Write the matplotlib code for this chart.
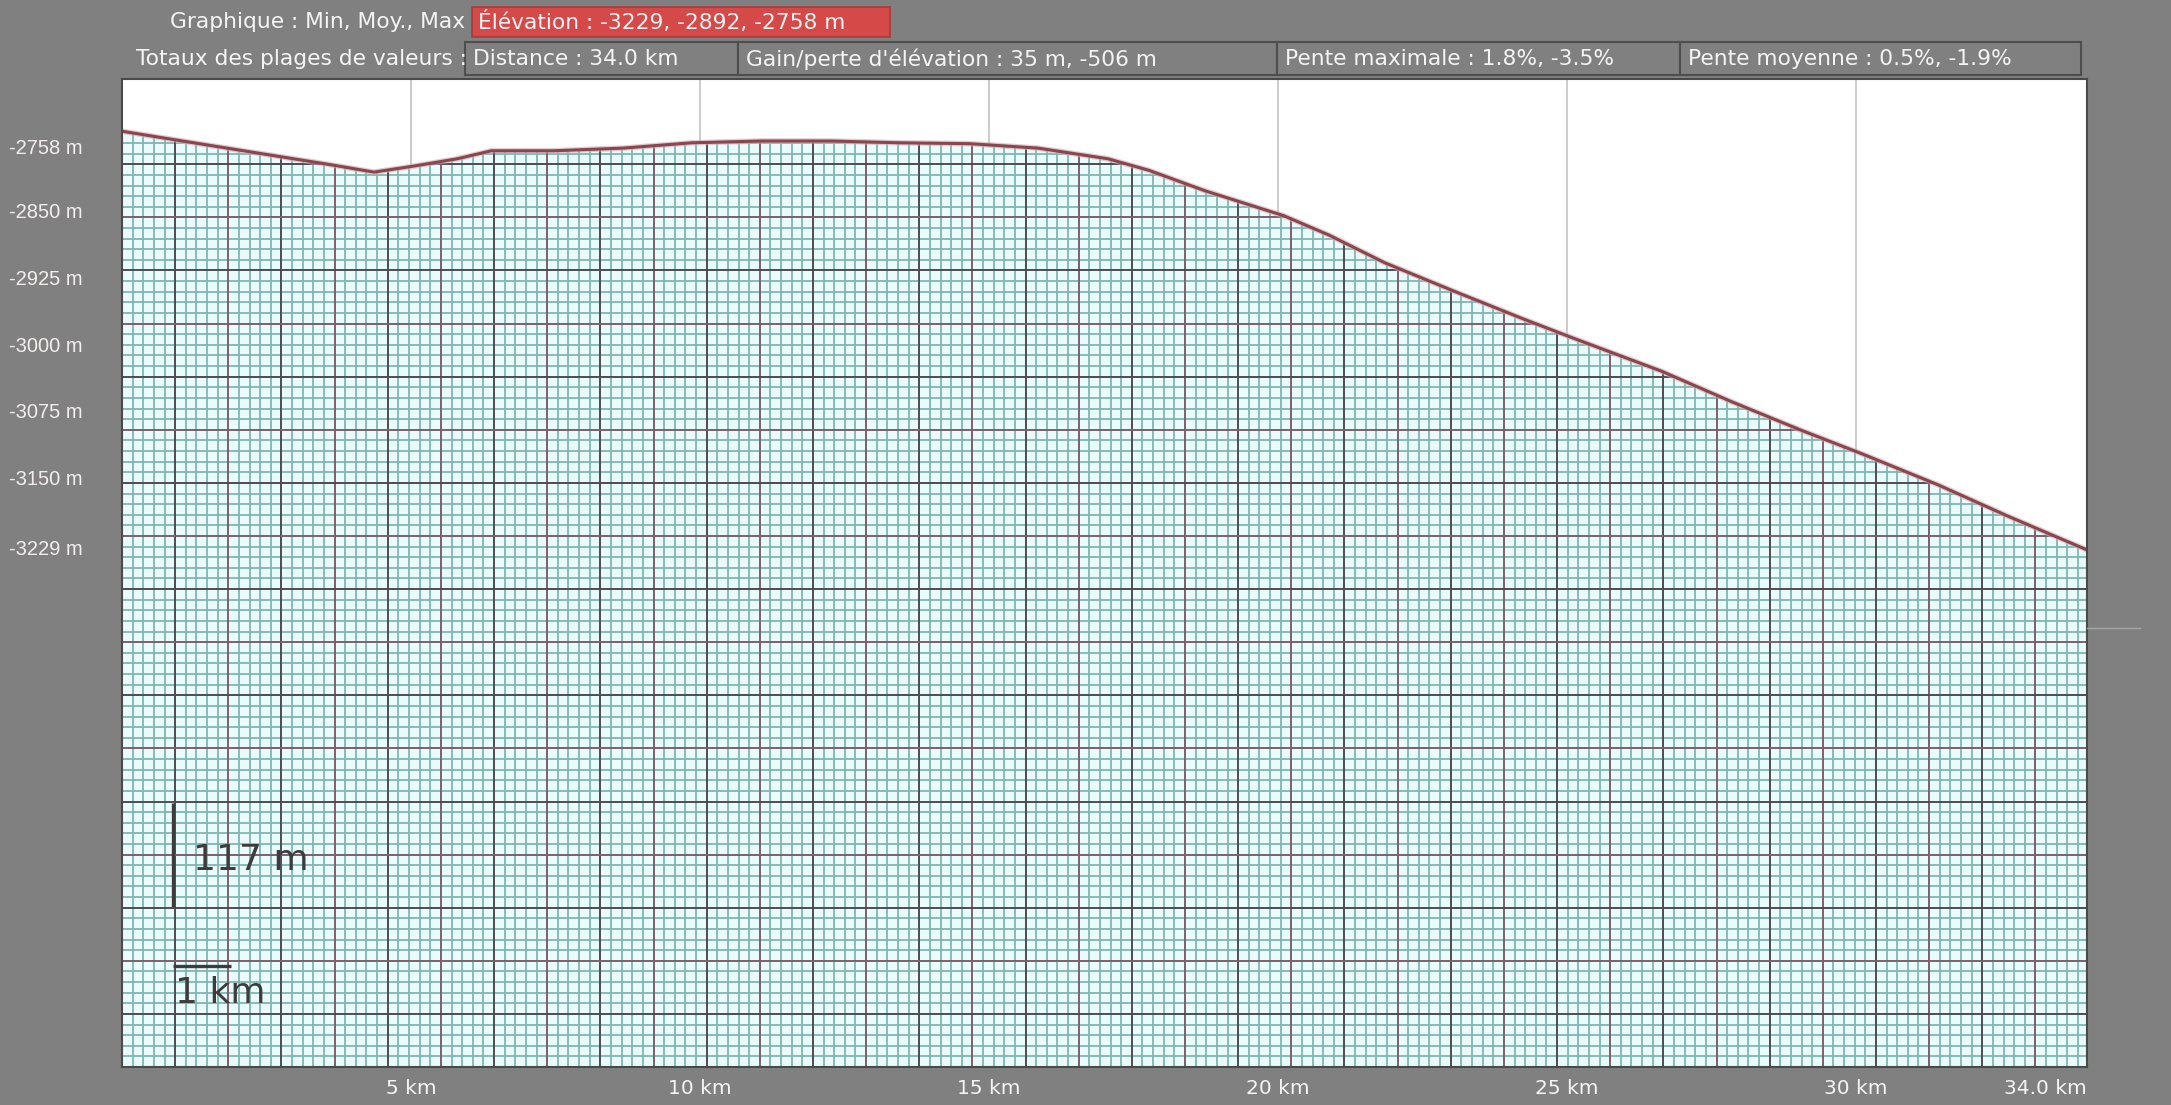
import numpy as np
import matplotlib
matplotlib.use("Agg")
import matplotlib.pyplot as plt
from matplotlib.collections import LineCollection
from matplotlib.patches import Rectangle
from matplotlib.lines import Line2D
from matplotlib.transforms import blended_transform_factory, ScaledTranslation

# Elevation profile (km, m)
distance_km = [0.0, 0.76, 1.72, 2.68, 3.64, 4.36, 5.07, 5.80, 6.39, 7.47, 8.67,
               9.86, 11.07, 12.27, 13.46, 14.66, 15.85, 17.06, 17.77, 18.74,
               20.10, 20.89, 21.85, 23.05, 24.24, 25.12, 26.64, 27.84, 29.04,
               30.11, 31.43, 32.63, 34.0]
elevation_m = [-2758, -2766, -2776, -2786, -2796, -2804, -2797, -2789, -2780,
               -2780, -2777, -2771, -2769, -2769, -2771, -2772, -2777, -2789,
               -2802, -2825, -2853, -2875, -2906, -2938, -2969, -2991, -3028,
               -3062, -3094, -3121, -3156, -3191, -3229]

ytick_values = [-2758, -2850, -2925, -3000, -3075, -3150, -3229]
ytick_labels = [f"{v} m" for v in ytick_values]
xtick_values = [5, 10, 15, 20, 25, 30]
xtick_labels = [f"{v} km" for v in xtick_values]
total_km = 34.0

header_label = "Graphique : Min, Moy., Max"
header_value = "Élévation : -3229, -2892, -2758 m"
totals_label = "Totaux des plages de valeurs :"
totals_boxes = ["Distance : 34.0 km",
                "Gain/perte d'élévation : 35 m, -506 m",
                "Pente maximale : 1.8%, -3.5%",
                "Pente moyenne : 0.5%, -1.9%"]

scale_bar_m = 117
scale_bar_km = 1

# layout (pixels of the 2171x1105 screenshot)
W, H = 2171, 1105
BG = "#808080"
TXT = "#f4f4f4"
PAPER = "#eafbfb"
Y_TOP, Y_BOTTOM = -2699.25, -3810.75
FS = 14.5
FS_HEAD = 15.7
FS_Y = 14.5


def fx(px):
    return px / W


def fy(py):
    return 1 - py / H


fig = plt.figure(figsize=(W / 100, H / 100), dpi=100, facecolor=BG)
ax = fig.add_axes([fx(122), fy(1067), (2087 - 122) / W, (1067 - 79) / H])
ax.set_xlim(0, total_km)
ax.set_ylim(Y_BOTTOM, Y_TOP)
ax.set_facecolor("white")

# graph-paper texture under the profile
ax.add_patch(Rectangle((0, 0), 1, 1, transform=ax.transAxes,
                       facecolor=PAPER, edgecolor="none", zorder=0))
col_step = 53.15 / 1965 / 5
row_step = 53.1 / 988 / 5
minor_segs, major_segs, major_cols = [], [], []
for i, x in enumerate(np.arange(0, 1 + 1e-9, col_step)):
    seg = [(x, 0), (x, 1)]
    if i % 5:
        minor_segs.append(seg)
    else:
        major_segs.append(seg)
        major_cols.append("#4c4c55" if (i // 5) % 2 else "#7e5f6d")
for j, y in enumerate(np.arange(0, 1 + 1e-9, row_step)):
    seg = [(0, y), (1, y)]
    if j % 5:
        minor_segs.append(seg)
    else:
        major_segs.append(seg)
        major_cols.append("#4c4c55" if (j // 5) % 2 else "#7e5f6d")
ax.add_collection(LineCollection(minor_segs, colors="#80b6b2", linewidths=1.3,
                                 transform=ax.transAxes, zorder=1))
ax.add_collection(LineCollection(major_segs, colors=major_cols, linewidths=1.4,
                                 transform=ax.transAxes, zorder=1.5))

# white sky above the profile, with light 5 km guides
sky = ax.fill_between(distance_km, elevation_m, Y_TOP, color="white", lw=0, zorder=2)
sky_path = sky.get_paths()[0]
for x in xtick_values:
    gl = ax.axvline(x, color="#c8c8c8", lw=1.3, zorder=3)
    gl.set_clip_path(sky_path, ax.transData)

ax.plot(distance_km, elevation_m, color="#d8a8b0", lw=4.0, alpha=0.6, zorder=4)
ax.plot(distance_km, elevation_m, color="#87474f", lw=2.2, zorder=5)

for s in ax.spines.values():
    s.set_color("#4a4a4a")
    s.set_linewidth(1.5)
    s.set_zorder(6)

ax.set_xticks(xtick_values, xtick_labels)
ax.set_yticks([])
ax.tick_params(axis="x", length=0, colors=TXT, labelsize=FS, pad=9)
ax.annotate("34.0 km", xy=(total_km, 0), xycoords=("data", "axes fraction"),
            xytext=(0, -9), textcoords="offset points", ha="right", va="top",
            color=TXT, fontsize=FS)

# elevation labels in the left margin
ytrans = blended_transform_factory(fig.transFigure, ax.transData)
for k, (v, lab) in enumerate(zip(ytick_values, ytick_labels)):
    tr = ytrans
    if k == 0:
        tr = ytrans + ScaledTranslation(0, -0.17, fig.dpi_scale_trans)
    ax.text(fx(9), v, lab, transform=tr, ha="left", va="center",
            color="#f3eeee", fontsize=FS_Y, family="Liberation Sans",
            clip_on=False)

# scale bars
bx = 0.88
vb = Y_BOTTOM + 0.162 * (Y_TOP - Y_BOTTOM)
hb = Y_BOTTOM + 0.102 * (Y_TOP - Y_BOTTOM)
ax.plot([bx, bx], [vb, vb + scale_bar_m], color="#3c3c3c", lw=2.4,
        solid_capstyle="butt", zorder=7)
ax.plot([bx, bx + scale_bar_km], [hb, hb], color="#3c3c3c", lw=2.4,
        solid_capstyle="butt", zorder=7)
ax.text(0.0361, 0.2095, f"{scale_bar_m} m", transform=ax.transAxes,
        ha="left", va="center", fontsize=26, color="#3c3c3c", zorder=7)
ax.text(0.027, 0.0749, f"{scale_bar_km} km", transform=ax.transAxes,
        ha="left", va="center", fontsize=26, color="#3c3c3c", zorder=7)

# header rows
fig.text(fx(465), fy(22), header_label, ha="right", va="center",
         color=TXT, fontsize=FS_HEAD)
fig.patches.append(Rectangle((fx(472), fy(37)), (890 - 472) / W, 30 / H,
                             transform=fig.transFigure, facecolor="#d54a48",
                             edgecolor="#a83a3a", lw=1.2))
fig.text(fx(478), fy(22), header_value, ha="left", va="center",
         color=TXT, fontsize=FS_HEAD)

fig.text(fx(467), fy(59), totals_label, ha="right", va="center",
         color=TXT, fontsize=FS_HEAD)
edges = [465, 738, 1277, 1680, 2081]
for left, right, lab in zip(edges[:-1], edges[1:], totals_boxes):
    fig.patches.append(Rectangle((fx(left), fy(75)), (right - left) / W, 33 / H,
                                 transform=fig.transFigure, facecolor=BG,
                                 edgecolor="#4e4e4e", lw=1.5))
    fig.text(fx(left + 8), fy(59), lab, ha="left", va="center",
             color=TXT, fontsize=FS_HEAD)

fig.add_artist(Line2D([fx(2087), fx(2140)], [fy(628), fy(628)],
                      transform=fig.transFigure, color="#a5a5a5", lw=1))

fig.savefig("out.png", dpi=100, facecolor=fig.get_facecolor())
plt.close(fig)
